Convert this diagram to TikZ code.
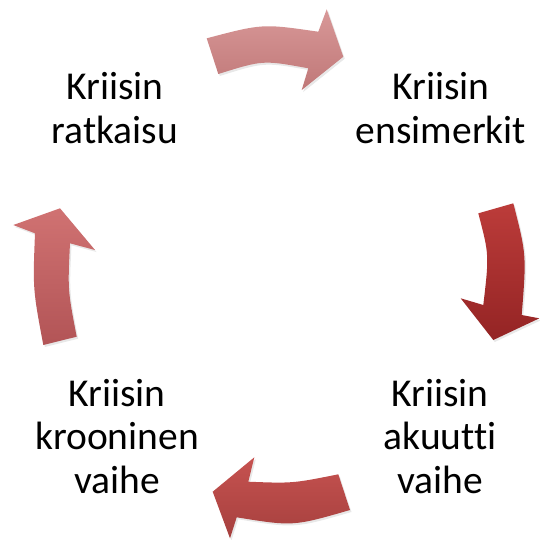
\documentclass[tikz,border=0pt]{standalone}
\usepackage{fontspec}
\setmainfont{Carlito}[Ligatures={NoCommon}]
\usetikzlibrary{shadows}
\begin{document}
\begin{tikzpicture}[x=1pt,y=-1pt,
  lbl/.style={align=center,anchor=base,inner sep=0pt,font=\fontsize{39.5}{43.5}\selectfont},
  arr/.style={draw=none,drop shadow={opacity=0.18,shadow xshift=1.5pt,shadow yshift=-2pt}}]
\useasboundingbox (0,0) rectangle (540,539);
% labels (anchor = baseline of last line)
\node[lbl] (ratk) at (115,143) {Kriisin\\ratkaisu};
\node[lbl] (ensi) at (441,143) {Kriisin\\ensimerkit};
\node[lbl] (akuu) at (440,493) {Kriisin\\akuutti\\vaihe};
\node[lbl] (kroo) at (117,493) {Kriisin\\krooninen\\vaihe};
% top arrow
\shade[arr,top color={rgb,255:red,216;green,152;blue,152},bottom color={rgb,255:red,192;green,120;blue,120}]
  (206.7,38.3) .. controls (262.5,23.6) .. (318.3,31.7) -- (326.7,9.3) -- (343.3,56.7)
  -- (301.7,90) -- (308.3,68.3) .. controls (263,60) .. (218.3,74) -- cycle;
% right arrow
\shade[arr,top color={rgb,255:red,188;green,60;blue,58},bottom color={rgb,255:red,148;green,36;blue,36}]
  (478.3,213.3) -- (513.3,203.3) .. controls (526.5,254.8) .. (521.7,315) -- (539.3,318.3)
  -- (493.3,340) -- (460.7,298.3) -- (483.3,305) .. controls (489.2,254.8) .. cycle;
% bottom arrow
\shade[arr,top color={rgb,255:red,198;green,82;blue,80},bottom color={rgb,255:red,166;green,64;blue,62}]
  (338.3,474.3) .. controls (292.7,483.4) .. (248.3,481.7) -- (254.3,457.3) -- (212.7,491.7)
  -- (230,538.3) -- (236.7,517.3) .. controls (293.2,526.4) .. (350,510) -- cycle;
% left arrow
\shade[arr,top color={rgb,255:red,208;green,114;blue,114},bottom color={rgb,255:red,178;green,84;blue,86}]
  (43.3,345) -- (76.7,336.7) .. controls (67.7,290) .. (70,243.3) -- (95,250) -- (60,208.3)
  -- (13.3,225) -- (35,233.3) .. controls (32.8,289) .. cycle;
\end{tikzpicture}
\end{document}
